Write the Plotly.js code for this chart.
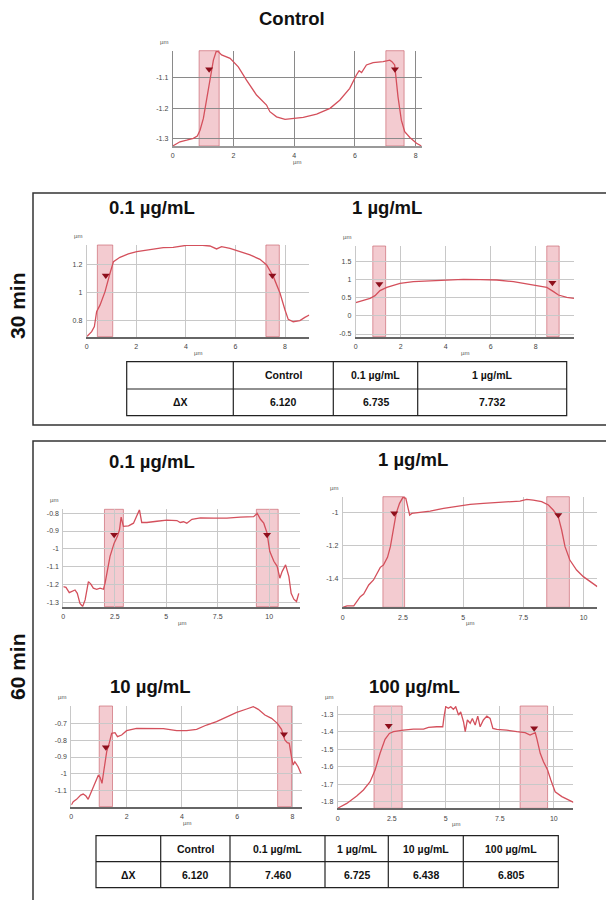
<!DOCTYPE html>
<html><head><meta charset="utf-8">
<script src="https://cdn.plot.ly/plotly-3.0.1.min.js"></script>
<style>html,body{margin:0;padding:0;background:#fff}#chart{width:606px;height:900px}</style>
</head><body><div id="chart"></div>
<script>
// ---------------- DATA ----------------
// Control
const ctrlX = [0,0.24,0.46,0.68,0.81,0.9,1.01,1.12,1.23,1.34,1.43,1.5,1.61,1.89,2.16,2.43,2.76,3.09,3.2,3.42,3.7,3.97,4.3,4.74,5.18,5.5,5.83,6.05,6.14,6.22,6.38,6.6,6.93,7.15,7.22,7.31,7.35,7.42,7.53,7.64,7.81,8.03,8.19];
const ctrlY = [-1.325,-1.311,-1.306,-1.3,-1.292,-1.273,-1.234,-1.174,-1.102,-1.042,-1.014,-1.014,-1.025,-1.036,-1.064,-1.108,-1.157,-1.19,-1.212,-1.229,-1.237,-1.234,-1.231,-1.22,-1.201,-1.174,-1.135,-1.091,-1.077,-1.083,-1.058,-1.05,-1.047,-1.042,-1.047,-1.058,-1.097,-1.163,-1.24,-1.278,-1.297,-1.316,-1.325];
const ctrlBands = [[0.87,1.53],[7.02,7.62]];
const ctrlMarkX = [1.2,7.32], ctrlMarkY = [-1.072,-1.072];
const ctrlXTicks = [0,2,4,6,8], ctrlYTicks = [-1.1,-1.2,-1.3];

// 30 min, 0.1 µg/mL
const m30aX = [0,0.2,0.31,0.4,0.54,0.74,0.94,1.08,1.34,1.68,2.02,2.55,3.09,3.49,4.03,4.57,4.97,5.24,5.44,5.78,6.18,6.59,6.99,7.26,7.53,7.8,8.0,8.13,8.33,8.6,8.8,8.98];
const m30aY = [0.683,0.719,0.755,0.862,0.91,1.005,1.136,1.219,1.25,1.274,1.29,1.302,1.319,1.321,1.336,1.338,1.331,1.31,1.326,1.314,1.29,1.267,1.236,1.195,1.112,0.993,0.874,0.807,0.79,0.798,0.821,0.838];
const m30aBands = [[0.43,1.05],[7.23,7.77]];
const m30aMarkX = [0.77,7.49], m30aMarkY = [1.12,1.12];
const m30aXTicks = [0,2,4,6,8], m30aYTicks = [0.8,1,1.2];

// 30 min, 1 µg/mL
const m30bX = [0,0.34,0.64,0.86,1.08,1.38,1.97,2.56,3.3,4.04,4.79,5.53,6.27,7.01,7.75,8.49,8.79,9.01,9.38,9.7];
const m30bY = [0.362,0.417,0.482,0.555,0.693,0.784,0.894,0.94,0.968,0.986,1.005,0.995,0.986,0.94,0.867,0.784,0.665,0.573,0.509,0.482];
const m30bBands = [[0.76,1.33],[8.49,9.04]];
const m30bMarkX = [1.05,8.74], m30bMarkY = [0.876,0.91];
const m30bXTicks = [0,2,4,6,8], m30bYTicks = [-0.5,0,0.5,1,1.5];

// 60 min, 0.1 µg/mL
const m60aX = [0,0.13,0.29,0.41,0.57,0.68,0.81,0.94,1.06,1.22,1.33,1.46,1.62,1.79,1.95,2.03,2.11,2.27,2.47,2.63,2.73,2.81,2.92,3.17,3.41,3.57,3.7,3.81,4.06,4.55,5.03,5.52,5.68,5.84,6.0,6.25,6.66,7.31,7.95,8.6,9.25,9.42,9.58,9.74,9.9,10.03,10.23,10.39,10.52,10.63,10.8,10.96,11.07,11.2,11.33,11.44];
const m60aY = [-1.212,-1.216,-1.246,-1.24,-1.231,-1.25,-1.306,-1.324,-1.287,-1.184,-1.197,-1.221,-1.227,-1.221,-1.227,-1.193,-1.137,-1.042,-0.968,-0.93,-0.893,-0.822,-0.874,-0.871,-0.856,-0.819,-0.781,-0.852,-0.852,-0.845,-0.839,-0.841,-0.852,-0.848,-0.856,-0.834,-0.826,-0.828,-0.828,-0.822,-0.819,-0.8,-0.834,-0.856,-0.912,-1.014,-1.07,-1.098,-1.165,-1.128,-1.09,-1.156,-1.25,-1.283,-1.296,-1.25];
const m60aBands = [[2.0,2.92],[9.38,10.44]];
const m60aMarkX = [2.47,9.9], m60aMarkY = [-0.921,-0.921];
const m60aXTicks = [0,2.5,5,7.5,10], m60aYTicks = [-0.8,-0.9,-1,-1.1,-1.2,-1.3];

// 60 min, 1 µg/mL
const m60bX = [0,0.18,0.46,0.59,0.73,0.87,1.08,1.28,1.42,1.56,1.69,1.86,1.98,2.09,2.22,2.36,2.5,2.62,2.71,2.78,2.87,3.22,3.63,4.19,4.74,5.29,5.84,6.4,6.95,7.36,7.64,7.91,8.26,8.54,8.74,8.95,9.09,9.23,9.43,9.71,9.99,10.27,10.57];
const m60bY = [-1.57,-1.562,-1.562,-1.536,-1.506,-1.49,-1.436,-1.406,-1.366,-1.33,-1.316,-1.27,-1.206,-1.106,-1.006,-0.946,-0.91,-0.916,-0.966,-1.016,-1.006,-1.0,-0.992,-0.976,-0.962,-0.952,-0.946,-0.942,-0.936,-0.932,-0.922,-0.926,-0.936,-0.956,-0.986,-1.026,-1.106,-1.206,-1.286,-1.346,-1.386,-1.416,-1.446];
const m60bBands = [[1.67,2.57],[8.47,9.41]];
const m60bMarkX = [2.14,8.95], m60bMarkY = [-1.006,-1.016];
const m60bXTicks = [0,2.5,5,7.5,10], m60bYTicks = [-1,-1.2,-1.4];

// 60 min, 10 µg/mL
const m60cX = [0,0.07,0.19,0.34,0.43,0.53,0.61,0.73,0.86,0.98,1.04,1.11,1.18,1.28,1.37,1.46,1.58,1.67,1.82,2.0,2.36,2.84,3.33,3.81,4.17,4.53,4.89,5.25,5.61,5.98,6.34,6.58,6.76,7.0,7.24,7.45,7.6,7.72,7.81,7.88,7.96,8.02,8.08,8.2,8.3];
const m60cY = [-1.188,-1.168,-1.154,-1.128,-1.122,-1.134,-1.154,-1.108,-1.062,-1.008,-1.022,-1.058,-0.978,-0.868,-0.818,-0.758,-0.754,-0.778,-0.768,-0.742,-0.728,-0.728,-0.73,-0.742,-0.742,-0.734,-0.708,-0.688,-0.658,-0.632,-0.612,-0.598,-0.614,-0.648,-0.668,-0.698,-0.734,-0.798,-0.814,-0.818,-0.898,-0.948,-0.928,-0.958,-0.998];
const m60cBands = [[1.01,1.49],[7.46,7.96]];
const m60cMarkX = [1.25,7.69], m60cMarkY = [-0.842,-0.764];
const m60cXTicks = [0,2,4,6,8], m60cYTicks = [-0.7,-0.8,-0.9,-1,-1.1];

// 60 min, 100 µg/mL
const m60dX = [0,0.42,0.88,1.19,1.5,1.73,1.96,2.19,2.39,2.58,3.04,3.5,3.97,4.2,4.58,4.86,4.92,5.0,5.12,5.23,5.35,5.46,5.59,5.69,5.82,5.9,6.0,6.13,6.23,6.36,6.48,6.59,6.74,6.9,7.05,7.18,7.36,7.82,8.29,8.67,8.9,9.06,9.14,9.21,9.37,9.52,9.71,9.86,10.06,10.37,10.68,10.91];
const m60dY = [-1.838,-1.81,-1.768,-1.733,-1.686,-1.619,-1.523,-1.443,-1.409,-1.399,-1.39,-1.384,-1.384,-1.374,-1.371,-1.371,-1.313,-1.256,-1.265,-1.256,-1.271,-1.256,-1.304,-1.286,-1.342,-1.399,-1.332,-1.351,-1.323,-1.361,-1.31,-1.371,-1.332,-1.31,-1.323,-1.38,-1.386,-1.39,-1.399,-1.405,-1.418,-1.412,-1.405,-1.437,-1.523,-1.571,-1.619,-1.676,-1.743,-1.771,-1.79,-1.804];
const m60dBands = [[1.68,2.98],[8.44,9.71]];
const m60dMarkX = [2.36,9.09], m60dMarkY = [-1.365,-1.38];
const m60dXTicks = [0,2.5,5,7.5,10], m60dYTicks = [-1.3,-1.4,-1.5,-1.6,-1.7,-1.8];

// Titles
const plotTitles = ['Control','0.1 µg/mL','1 µg/mL','0.1 µg/mL','1 µg/mL','10 µg/mL','100 µg/mL'];
const groupLabels = ['30 min','60 min'];
// Tables
const table30Head = ['Control','0.1 µg/mL','1 µg/mL'];
const table30Vals = ['6.120','6.735','7.732'];
const table60Head = ['Control','0.1 µg/mL','1 µg/mL','10 µg/mL','100 µg/mL'];
const table60Vals = ['6.120','7.460','6.725','6.438','6.805'];
const rowLabel = 'ΔX';
const unitLabel = 'µm';

// ---------------- LAYOUT ----------------
const W = 606, H = 900;
const fx = p => p / W, fy = p => 1 - p / H;
const FAM = 'Liberation Sans, Arial, sans-serif';

const plots = [
  {x:ctrlX,y:ctrlY,bands:ctrlBands,mx:ctrlMarkX,my:ctrlMarkY,xt:ctrlXTicks,yt:ctrlYTicks,box:[172.7,421.7,50.7,146],xr:[0,8.2],yr:[-1.325,-1.011],title:[292,18],grid:'#8a8a8a',axis:'#999',aw:1.5},
  {x:m30aX,y:m30aY,bands:m30aBands,mx:m30aMarkX,my:m30aMarkY,xt:m30aXTicks,yt:m30aYTicks,box:[86.7,309.3,245,336.7],xr:[0,8.98],yr:[0.683,1.338],title:[152,208]},
  {x:m30bX,y:m30bY,bands:m30bBands,mx:m30bMarkX,my:m30bMarkY,xt:m30bXTicks,yt:m30bYTicks,box:[355.7,574,246,336.7],xr:[0,9.7],yr:[-0.573,1.92],title:[387,208]},
  {x:m60aX,y:m60aY,bands:m60aBands,mx:m60aMarkX,my:m60aMarkY,xt:m60aXTicks,yt:m60aYTicks,box:[63.3,300,509.3,606.7],xr:[0,11.5],yr:[-1.325,-0.778],title:[152,461]},
  {x:m60bX,y:m60bY,bands:m60bBands,mx:m60bMarkX,my:m60bMarkY,xt:m60bXTicks,yt:m60bYTicks,box:[342.7,597.3,496.7,607.3],xr:[0,10.57],yr:[-1.57,-0.906],title:[413,460]},
  {x:m60cX,y:m60cY,bands:m60cBands,mx:m60cMarkX,my:m60cMarkY,xt:m60cXTicks,yt:m60cYTicks,box:[71.3,301.7,706,806.7],xr:[0,8.33],yr:[-1.198,-0.594],title:[150,686]},
  {x:m60dX,y:m60dY,bands:m60dBands,mx:m60dMarkX,my:m60dMarkY,xt:m60dXTicks,yt:m60dYTicks,box:[337.7,573.3,706,808.3],xr:[0,10.9],yr:[-1.838,-1.252],title:[414,686]}
];

const traces = [], shapes = [], annotations = [];
const layout = {
  width: W, height: H, margin:{l:0,r:0,t:0,b:0},
  paper_bgcolor:'#fff', plot_bgcolor:'rgba(0,0,0,0)',
  showlegend:false,
  font:{family:FAM, color:'#222'}
};
const titleFont = {family:FAM, size:18.5, color:'#111'};
const tickFont = {family:FAM, size:7, color:'#444'};
function note(px, py, text, font, extra) {
  annotations.push(Object.assign({xref:'paper', yref:'paper', x:fx(px), y:fy(py), text:text,
    showarrow:false, font:font, xanchor:'center', yanchor:'middle'}, extra || {}));
}

plots.forEach((p, i) => {
  const n = i + 1, sx = n === 1 ? '' : String(n);
  const xa = 'x' + sx, ya = 'y' + sx;
  const [l, r, t, b] = p.box;
  const grid = p.grid || '#c8c8c8';
  layout['xaxis' + sx] = {
    domain:[fx(l), fx(r)], range:p.xr, anchor:ya, fixedrange:true,
    tickvals:p.xt, ticktext:p.xt.map(String), tickfont:tickFont, ticks:'',
    showgrid:true, gridcolor:grid, gridwidth:1, zeroline:false,
    showline:true, linecolor:p.axis || '#666', linewidth:p.aw || 2, ticklabelstandoff:2
  };
  layout['yaxis' + sx] = {
    domain:[fy(b), fy(t)], range:p.yr, anchor:xa, fixedrange:true,
    tickvals:p.yt, ticktext:p.yt.map(String), tickfont:tickFont, ticks:'',
    showgrid:true, gridcolor:grid, gridwidth:1, zeroline:false,
    showline:true, linecolor:grid, linewidth:1, ticklabelstandoff:2
  };
  p.bands.forEach(bd => shapes.push({
    type:'rect', xref:xa, yref:ya + ' domain', x0:bd[0], x1:bd[1], y0:0, y1:1,
    fillcolor:'rgba(228,140,150,0.45)', line:{color:'rgba(200,95,105,0.8)', width:0.8}, layer:'below'
  }));
  traces.push({type:'scatter', mode:'lines', x:p.x, y:p.y, xaxis:xa, yaxis:ya,
    line:{color:'rgb(212,80,92)', width:1.3}, hoverinfo:'skip'});
  traces.push({type:'scatter', mode:'markers', x:p.mx, y:p.my, xaxis:xa, yaxis:ya,
    marker:{symbol:'triangle-down', size:7, color:'#8e0f1c'}, hoverinfo:'skip'});
  note(p.title[0], p.title[1], '<b>' + plotTitles[i] + '</b>', titleFont);
  note(l - 9, t - 9, unitLabel, {family:FAM, size:6, color:'#555'});
  note((l + r) / 2, b + 16, unitLabel, {family:FAM, size:6, color:'#555'});
});

// group boxes
const frame = {color:'#333', width:1.5};
shapes.push({type:'rect', xref:'paper', yref:'paper', x0:fx(33), x1:fx(612), y0:fy(425), y1:fy(193), line:frame, layer:'above'});
shapes.push({type:'rect', xref:'paper', yref:'paper', x0:fx(33), x1:fx(612), y0:fy(910), y1:fy(441), line:frame, layer:'above'});
[[17,306],[17,667]].forEach((pos, k) =>
  note(pos[0], pos[1], '<b>' + groupLabels[k] + '</b>', {family:FAM, size:21, color:'#111'}, {textangle:-90}));

// tables
function drawTable(cols, top, mid, bot, head, vals) {
  const line = {color:'#222', width:1.2};
  const L = cols[0], R = cols[cols.length - 1];
  shapes.push({type:'rect', xref:'paper', yref:'paper', x0:fx(L), x1:fx(R), y0:fy(bot), y1:fy(top), line:line});
  shapes.push({type:'line', xref:'paper', yref:'paper', x0:fx(L), x1:fx(R), y0:fy(mid), y1:fy(mid), line:line});
  for (let k = 1; k < cols.length - 1; k++)
    shapes.push({type:'line', xref:'paper', yref:'paper', x0:fx(cols[k]), x1:fx(cols[k]), y0:fy(bot), y1:fy(top), line:line});
  const tf = {family:FAM, size:10.5, color:'#111'};
  note((cols[0] + cols[1]) / 2, (mid + bot) / 2, '<b>' + rowLabel + '</b>', tf);
  head.forEach((h, k) => {
    const cx = (cols[k + 1] + cols[k + 2]) / 2;
    note(cx, (top + mid) / 2, '<b>' + h + '</b>', tf);
    note(cx, (mid + bot) / 2, '<b>' + vals[k] + '</b>', tf);
  });
}
drawTable([126.7,233.3,333.3,417.7,566.7], 361.7, 389, 415.7, table30Head, table30Vals);
drawTable([96,160.7,230,325,388.3,463.3,558.3], 835.7, 861.7, 887.7, table60Head, table60Vals);

layout.shapes = shapes;
layout.annotations = annotations;
Plotly.newPlot('chart', traces, layout, {staticPlot:true, displayModeBar:false});
</script>
</body></html>
